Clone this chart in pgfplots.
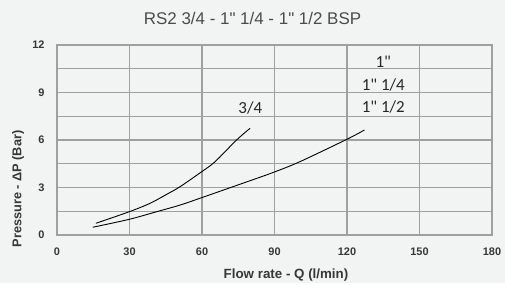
\documentclass[border=0pt]{standalone}
\usepackage{pgfplots}
\pgfplotsset{compat=1.18}
\usepackage{fontspec}
\setmainfont{Liberation Sans}[Ligatures=TeXOff]
\newfontfamily\calib{Carlito}[Ligatures=TeXOff]
\definecolor{bg}{RGB}{242,243,243}
\definecolor{gridc}{RGB}{160,160,160}
\definecolor{titlec}{RGB}{75,75,75}
\definecolor{labc}{RGB}{55,55,55}
\begin{document}
\begin{tikzpicture}[x=1bp,y=1bp]
\fill[bg] (-57,-48) rectangle (448,235);
\begin{axis}[
  at={(0,0)}, anchor=south west,
  scale only axis, width=435bp, height=190bp,
  xmin=0, xmax=180, ymin=0, ymax=12,
  xtick={0,30,...,180}, ytick={0,3,...,12},
  minor ytick={1.5,4.5,7.5,10.5},
  grid=both,
  major grid style={gridc, line width=1.1bp},
  minor grid style={gridc, line width=1.1bp},
  axis line style={gridc, line width=1.1bp},
  major tick length=0pt, minor tick length=0pt,
  /pgf/number format/assume math mode=true,
  tick label style={font=\fontsize{11}{12}\selectfont\bfseries, text=labc},
  xticklabel style={yshift=-9bp},
  yticklabel style={xshift=-9bp},
  clip=false,
]
\addplot[black, line width=0.9bp, smooth, tension=0.5] coordinates {
(16.1,0.74) (29.9,1.47) (38.5,2.0) (45.4,2.57) (50.9,3.05) (59.9,4.0) (65.4,4.63) (74.3,6.0) (79.9,6.74)};
\addplot[black, line width=0.9bp, smooth, tension=0.5] coordinates {
(14.8,0.49) (29.9,0.99) (41.2,1.47) (50.9,1.89) (59.9,2.36) (79.9,3.43) (89.8,3.97) (100.5,4.63) (119.9,6.04) (127.2,6.63)};
\node[font=\calib\fontsize{17}{18}\selectfont, text=black!85] at (axis cs:80,8.0) {3/4};
\node[font=\calib\fontsize{17}{18}\selectfont, text=black!85] at (axis cs:135,10.95) {1"};
\node[font=\calib\fontsize{17}{18}\selectfont, text=black!85] at (axis cs:135,9.47) {1" 1/4};
\node[font=\calib\fontsize{17}{18}\selectfont, text=black!85] at (axis cs:135,8.1) {1" 1/2};
\end{axis}
\node[font=\fontsize{17}{18}\selectfont, text=titlec] at (195.5,216.5) {RS2 3/4 - 1" 1/4 - 1" 1/2 BSP};
\node[font=\fontsize{13.4}{14}\selectfont\bfseries, text=labc] at (229,-40) {Flow rate - Q (l/min)};
\node[font=\fontsize{12.8}{14}\selectfont\bfseries, text=labc, rotate=90] at (-39,46) {Pressure - ΔP (Bar)};
\useasboundingbox (-57,-48) rectangle (448,235);
\end{tikzpicture}
\end{document}
